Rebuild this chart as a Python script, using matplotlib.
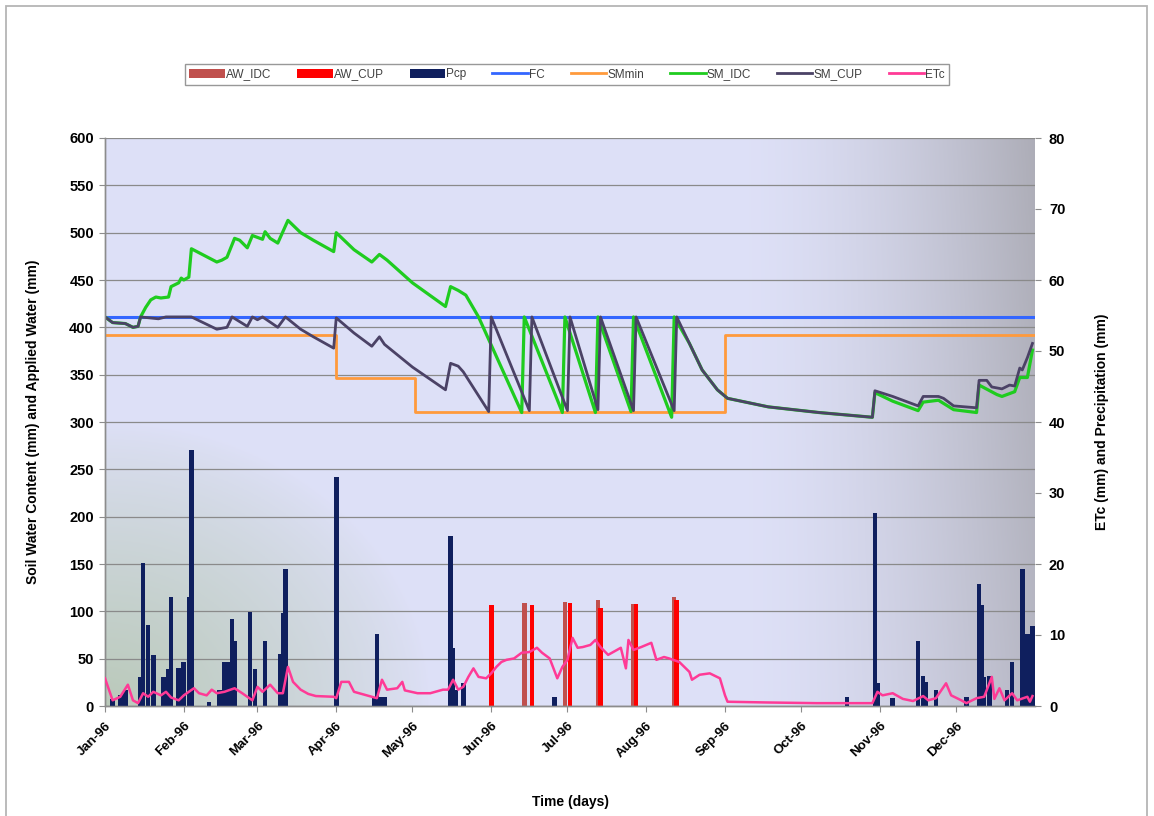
import numpy as np
import matplotlib
matplotlib.use("Agg")
import matplotlib.pyplot as plt
from matplotlib.patches import Patch, Rectangle
from matplotlib.lines import Line2D

plt.rcParams['font.family'] = ['Liberation Sans', 'DejaVu Sans']

# ---- calendar (day of year 1996, Jan 1 = 0) ----
month_days = [0, 31, 60, 91, 121, 152, 182, 213, 244, 274, 305, 335]
month_labels = ['Jan-96', 'Feb-96', 'Mar-96', 'Apr-96', 'May-96', 'Jun-96',
                'Jul-96', 'Aug-96', 'Sep-96', 'Oct-96', 'Nov-96', 'Dec-96']

# ---- field capacity and minimum soil moisture (mm) ----
fc_day = [0, 366]
fc_val = [411, 411]
smmin_day = [0, 91, 122, 244, 366]
smmin_val = [392, 346, 311, 392, 392]

# ---- soil moisture, IDC schedule (mm) ----
sm_idc_day = [0, 3, 8, 11, 13, 14, 16, 18, 20, 22, 25, 26, 29, 30, 31, 33, 34,
              44, 46, 48, 51, 53, 56, 58, 60, 62, 63, 65, 68, 72, 77, 82, 90, 91,
              98, 105, 108, 111, 121, 134, 136, 139, 142, 147, 164, 165, 180, 181,
              193, 194, 207, 208, 223, 224, 230, 235, 241, 245, 261, 281, 302,
              303, 310, 320, 322, 328, 334, 343, 344, 351, 353, 358, 360, 363, 365]
sm_idc_val = [411, 405, 404, 400, 401, 411, 421, 429, 432, 431, 432, 443, 447, 452, 450, 453, 483,
              469, 471, 474, 494, 492, 484, 497, 495, 493, 501, 494, 489, 513, 500, 492, 480, 500,
              482, 469, 477, 471, 447, 422, 443, 439, 434, 411, 310, 411, 310, 411,
              310, 411, 311, 411, 305, 411, 383, 355, 334, 325, 316, 310, 305,
              331, 322, 312, 321, 323, 313, 310, 339, 329, 327, 332, 347, 347, 376]

# ---- soil moisture, CUP schedule (mm) ----
sm_cup_day = [0, 3, 8, 11, 13, 14, 21, 24, 30, 34, 44, 48, 50, 56, 58, 60, 62, 68,
              71, 77, 82, 90, 91, 98, 105, 108, 110, 121, 134, 136, 139, 141, 151,
              152, 167, 168, 182, 183, 194, 195, 208, 209, 224, 225, 230, 235, 241,
              245, 261, 281, 302, 303, 310, 320, 322, 328, 330, 334, 343, 344, 347,
              349, 353, 356, 358, 360, 361, 363, 365]
sm_cup_val = [411, 405, 404, 400, 401, 411, 409, 411, 411, 411, 398, 400, 411, 401, 411, 408, 411, 400,
              411, 398, 390, 378, 410, 394, 380, 390, 382, 358, 334, 362, 359, 353, 311,
              411, 312, 411, 312, 411, 313, 411, 312, 411, 312, 411, 383, 355, 334,
              325, 316, 310, 305, 333, 327, 317, 327, 327, 325, 317, 315, 344, 344,
              337, 335, 339, 338, 357, 355, 368, 383]

# ---- applied irrigation water (mm) ----
aw_idc_day = [165, 181, 194, 208, 224]
aw_idc_val = [109, 110, 112, 108, 115]
aw_cup_day = [152, 168, 183, 195, 209, 225]
aw_cup_val = [107, 107, 109, 104, 108, 112]

# ---- precipitation (mm) ----
pcp_day = [3, 6, 8, 14, 15, 17, 19, 23, 25, 26, 29, 31, 33, 34, 41, 45, 47, 49, 50, 51,
           57, 59, 63, 69, 70, 71, 91, 106, 107, 108, 110, 136, 137, 138, 141, 177,
           292, 303, 304, 310, 320, 322, 323, 327, 339, 344, 345, 346, 348, 355, 357,
           361, 363, 365]
pcp_val = [1.0, 1.5, 2.3, 4.1, 20.2, 11.4, 7.2, 4.1, 5.2, 15.3, 5.3, 6.2, 15.4, 36.1, 0.5,
           2.2, 6.2, 6.2, 12.3, 9.1, 13.3, 5.2, 9.2, 7.3, 13.1, 19.3, 32.3, 1.2, 10.2, 1.2,
           1.2, 24.0, 8.1, 2.2, 3.2, 1.3, 1.2, 27.2, 3.2, 1.1, 9.2, 4.2, 3.4, 2.2, 1.2,
           17.2, 14.2, 4.1, 4.2, 2.2, 6.2, 19.3, 10.1, 11.3]

# ---- crop evapotranspiration (mm) ----
etc_day = [0, 3, 6, 9, 11, 13, 15, 17, 19, 22, 24, 26, 29, 31, 35, 37, 40, 42, 44, 47,
           51, 54, 58, 60, 62, 65, 68, 70, 72, 74, 77, 80, 83, 90, 91, 93, 96, 98, 103,
           107, 109, 111, 115, 117, 118, 123, 128, 133, 135, 137, 139, 141, 143, 145,
           147, 150, 152, 154, 156, 158, 161, 164, 167, 170, 172, 175, 178, 180, 182,
           184, 186, 188, 191, 193, 195, 198, 200, 203, 205, 206, 208, 211, 215, 217,
           220, 222, 226, 230, 231, 234, 238, 242, 244, 245, 260, 280, 302, 304, 306,
           310, 314, 318, 322, 324, 327, 331, 333, 337, 339, 343, 346, 349, 350, 352,
           354, 357, 359, 363, 364, 365]
etc_val = [3.9, 0.8, 1.3, 3.0, 0.8, 0.4, 1.8, 1.3, 2.0, 1.5, 2.0, 1.2, 0.8, 1.5, 2.5, 1.8,
           1.5, 2.3, 1.8, 2.0, 2.5, 1.8, 0.8, 2.7, 2.0, 3.0, 1.8, 1.8, 5.5, 3.4, 2.3, 1.7,
           1.4, 1.3, 1.1, 3.4, 3.4, 2.0, 1.5, 1.1, 3.7, 2.3, 2.5, 3.4, 2.2, 1.8, 1.8, 2.3,
           2.3, 3.7, 2.3, 2.7, 4.1, 5.3, 4.1, 3.9, 4.6, 5.5, 6.2, 6.5, 6.7, 7.5, 7.6, 8.2,
           7.5, 6.7, 3.9, 5.5, 6.5, 9.6, 8.2, 8.3, 8.6, 9.3, 8.3, 7.2, 7.6, 8.2, 5.3, 9.3,
           7.9, 8.3, 8.9, 6.5, 6.9, 6.7, 6.2, 4.8, 3.7, 4.4, 4.6, 3.9, 1.5, 0.6, 0.5, 0.4,
           0.4, 2.0, 1.5, 1.8, 1.0, 0.7, 1.4, 0.8, 1.1, 3.2, 1.5, 0.8, 0.4, 1.1, 1.3, 4.1,
           1.0, 2.5, 0.8, 1.8, 0.8, 1.3, 0.6, 1.4]

# ---- colours ----
c_aw_idc = '#c0504d'
c_aw_cup = '#ff0000'
c_pcp = '#0f1f5e'
c_fc = '#3366ff'
c_smmin = '#ff9a3c'
c_idc = '#1fcc1f'
c_cup = '#4b4266'
c_etc = '#ff3a96'
c_axis = '#8c8c8c'

W, H = 1154, 816
fig = plt.figure(figsize=(W / 100, H / 100), dpi=100)
fig.patch.set_facecolor('white')
ax1 = fig.add_axes([105 / W, 1 - 706 / H, 930 / W, 568 / H])

# plot-area shading: lavender, greying toward the right edge, grey-green at lower left
nx, ny = 400, 250
u = np.linspace(0, 1, nx)[None, :]
v = np.linspace(0, 1, ny)[:, None]
base = np.array([0.87, 0.88, 0.97])
grey = np.array([0.68, 0.68, 0.72])
greenish = np.array([0.73, 0.79, 0.73])
wr = (np.clip((u - 0.68) / 0.32, 0, 1) ** 1.6) * (0.8 + 0.2 * v)
dist = np.sqrt((u / 0.35) ** 2 + (v / 0.5) ** 2)
wg = np.clip(1 - dist, 0, 1) ** 0.8
img = base * (1 - wr[..., None]) + grey * wr[..., None]
img = img * (1 - wg[..., None]) + greenish * wg[..., None]
ax1.imshow(img, extent=[0, 366, 0, 600], origin='lower', aspect='auto', zorder=0)

ax1.set_xlim(0, 366)
ax1.set_ylim(0, 600)
ax1.set_yticks(np.arange(0, 601, 50))
ax1.grid(axis='y', color='#8a8a8a', lw=0.9, zorder=0.5)
ax1.set_axisbelow(True)

bar_w = 1.8
ax1.bar(aw_idc_day, aw_idc_val, width=bar_w, color=c_aw_idc, zorder=2)
ax1.bar(aw_cup_day, aw_cup_val, width=bar_w, color=c_aw_cup, zorder=2)

ax1.plot(fc_day, fc_val, color=c_fc, lw=2.2, zorder=3)
ax1.plot(smmin_day, smmin_val, color=c_smmin, lw=2.0, drawstyle='steps-post', zorder=3)
ax1.plot(sm_idc_day, sm_idc_val, color=c_idc, lw=2.3, zorder=4)
ax1.plot(sm_cup_day, sm_cup_val, color=c_cup, lw=2.0, zorder=5)

ax2 = ax1.twinx()
ax2.patch.set_visible(False)
ax2.set_ylim(0, 80)
ax2.set_yticks(np.arange(0, 81, 10))
ax2.bar(pcp_day, pcp_val, width=bar_w, color=c_pcp, zorder=2)
ax2.plot(etc_day, etc_val, color=c_etc, lw=1.8, zorder=3)

# axes cosmetics
for ax in (ax1, ax2):
    ax.spines['top'].set_visible(False)
    ax.spines['right'].set_visible(False)
    for s in ('left', 'bottom'):
        ax.spines[s].set_color(c_axis)
        ax.spines[s].set_linewidth(1.0)

ax1.set_xticks(month_days)
ax1.set_xticklabels(month_labels, rotation=45, ha='right', rotation_mode='anchor',
                    fontweight='bold', fontsize=9.5)
ax1.tick_params(axis='x', length=4, color=c_axis, pad=6)
ax1.tick_params(axis='y', length=4, color=c_axis, labelsize=10.5, pad=4)
ax2.tick_params(axis='y', length=4, color=c_axis, labelsize=10.5, pad=6)
for t in ax1.get_yticklabels() + ax2.get_yticklabels():
    t.set_fontweight('bold')

ax1.set_ylabel('Soil Water Content (mm) and Applied Water (mm)', fontweight='bold', fontsize=10)
ax1.yaxis.set_label_coords(-(105 - 40) / 930, 0.5)
ax2.set_ylabel('ETc (mm) and Precipitation (mm)', fontweight='bold', fontsize=10)
ax2.yaxis.set_label_coords((1095 - 105) / 930, 0.5)
ax1.set_xlabel('Time (days)', fontweight='bold', fontsize=10)
ax1.xaxis.set_label_coords((570 - 105) / 930, -(795 - 706) / 568)

# legend across the top
handles = [Patch(fc=c_aw_idc), Patch(fc=c_aw_cup), Patch(fc=c_pcp),
           Line2D([], [], color=c_fc, lw=2), Line2D([], [], color=c_smmin, lw=2),
           Line2D([], [], color=c_idc, lw=2), Line2D([], [], color=c_cup, lw=2),
           Line2D([], [], color=c_etc, lw=2)]
labels = ['AW_IDC', 'AW_CUP', 'Pcp', 'FC', 'SMmin', 'SM_IDC', 'SM_CUP', 'ETc']
leg = fig.legend(handles, labels, loc='center', bbox_to_anchor=(567 / W, 1 - 74.5 / H),
                 ncol=8, frameon=True, fancybox=False, edgecolor='#7f7f7f', fontsize=8.5,
                 handlelength=3.0, handleheight=0.9, columnspacing=2.2, handletextpad=0.1,
                 borderpad=0.35)
leg.get_frame().set_linewidth(1.0)
for t in leg.get_texts():
    t.set_color('#404040')

# outer chart border
fig.add_artist(Rectangle((6 / W, -0.02), 1141 / W, 1 - 6 / H + 0.02, transform=fig.transFigure,
                         fill=False, ec='#b5b5b5', lw=1.3))

fig.savefig('out.png', dpi=100)
